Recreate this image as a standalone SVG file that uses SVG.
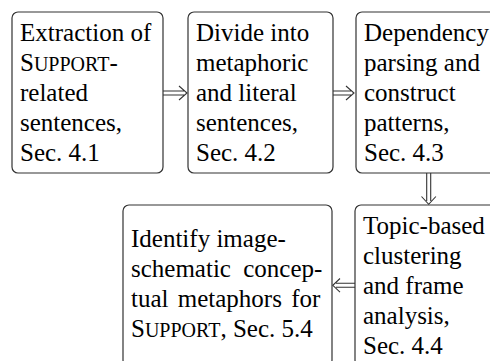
<svg xmlns="http://www.w3.org/2000/svg" width="490" height="361" viewBox="0 0 490 361">
<style>
.box{fill:#fff;stroke:#333;stroke-width:1.2}
.t{font-family:"Liberation Serif","Times New Roman",serif;font-size:25px;fill:#000}
.sc{font-size:20px}
.ln{fill:none;stroke:#333;stroke-width:1.1}
</style>
<rect width="490" height="361" fill="#fff"/>
<g id="n1">
<rect class="box" x="12" y="12" width="151" height="161" rx="6"/>
<text class="t" x="20" y="41">Extraction of</text>
<text class="t" x="20" y="71">S<tspan class="sc">UPPORT</tspan>-</text>
<text class="t" x="20" y="101">related</text>
<text class="t" x="20" y="131">sentences,</text>
<text class="t" x="20" y="161">Sec. 4.1</text>
</g>
<g id="n2">
<rect class="box" x="188" y="12" width="145" height="161" rx="6"/>
<text class="t" x="196" y="41">Divide into</text>
<text class="t" x="196" y="71">metaphoric</text>
<text class="t" x="196" y="101">and literal</text>
<text class="t" x="196" y="131">sentences,</text>
<text class="t" x="196" y="161">Sec. 4.2</text>
</g>
<g id="n3">
<rect class="box" x="356" y="12" width="145" height="161" rx="6"/>
<text class="t" x="364" y="41">Dependency</text>
<text class="t" x="364" y="71">parsing and</text>
<text class="t" x="364" y="101">construct</text>
<text class="t" x="364" y="131">patterns,</text>
<text class="t" x="364" y="161">Sec. 4.3</text>
</g>
<g id="n4">
<rect class="box" x="355" y="205" width="145" height="161" rx="6"/>
<text class="t" x="363" y="234">Topic-based</text>
<text class="t" x="363" y="264">clustering</text>
<text class="t" x="363" y="294">and frame</text>
<text class="t" x="363" y="324">analysis,</text>
<text class="t" x="363" y="354">Sec. 4.4</text>
</g>
<g id="n5">
<rect class="box" x="123" y="205" width="209" height="161" rx="6"/>
<text class="t" x="131" y="247">Identify image-</text>
<text class="t" x="131" y="277" word-spacing="6">schematic concep-</text>
<text class="t" x="131" y="307" word-spacing="3">tual metaphors for</text>
<text class="t" x="131" y="337">S<tspan class="sc">UPPORT</tspan>, Sec. 5.4</text>
</g>
<g id="connectors">
<path class="ln" d="M163 91 H184 M163 95 H184 M179 86 L187 93 L179 100"/>
<path class="ln" d="M333 91 H351 M333 95 H351 M346 86 L354 93 L346 100"/>
<path class="ln" d="M426.7 173 V201 M430.7 173 V201 M421.5 196.5 L428.7 204.3 L435.9 196.5"/>
<path class="ln" d="M355 283.3 H336 M355 287.3 H336 M340 278.5 L332.8 285.3 L340 292.1"/>
</g>
</svg>
